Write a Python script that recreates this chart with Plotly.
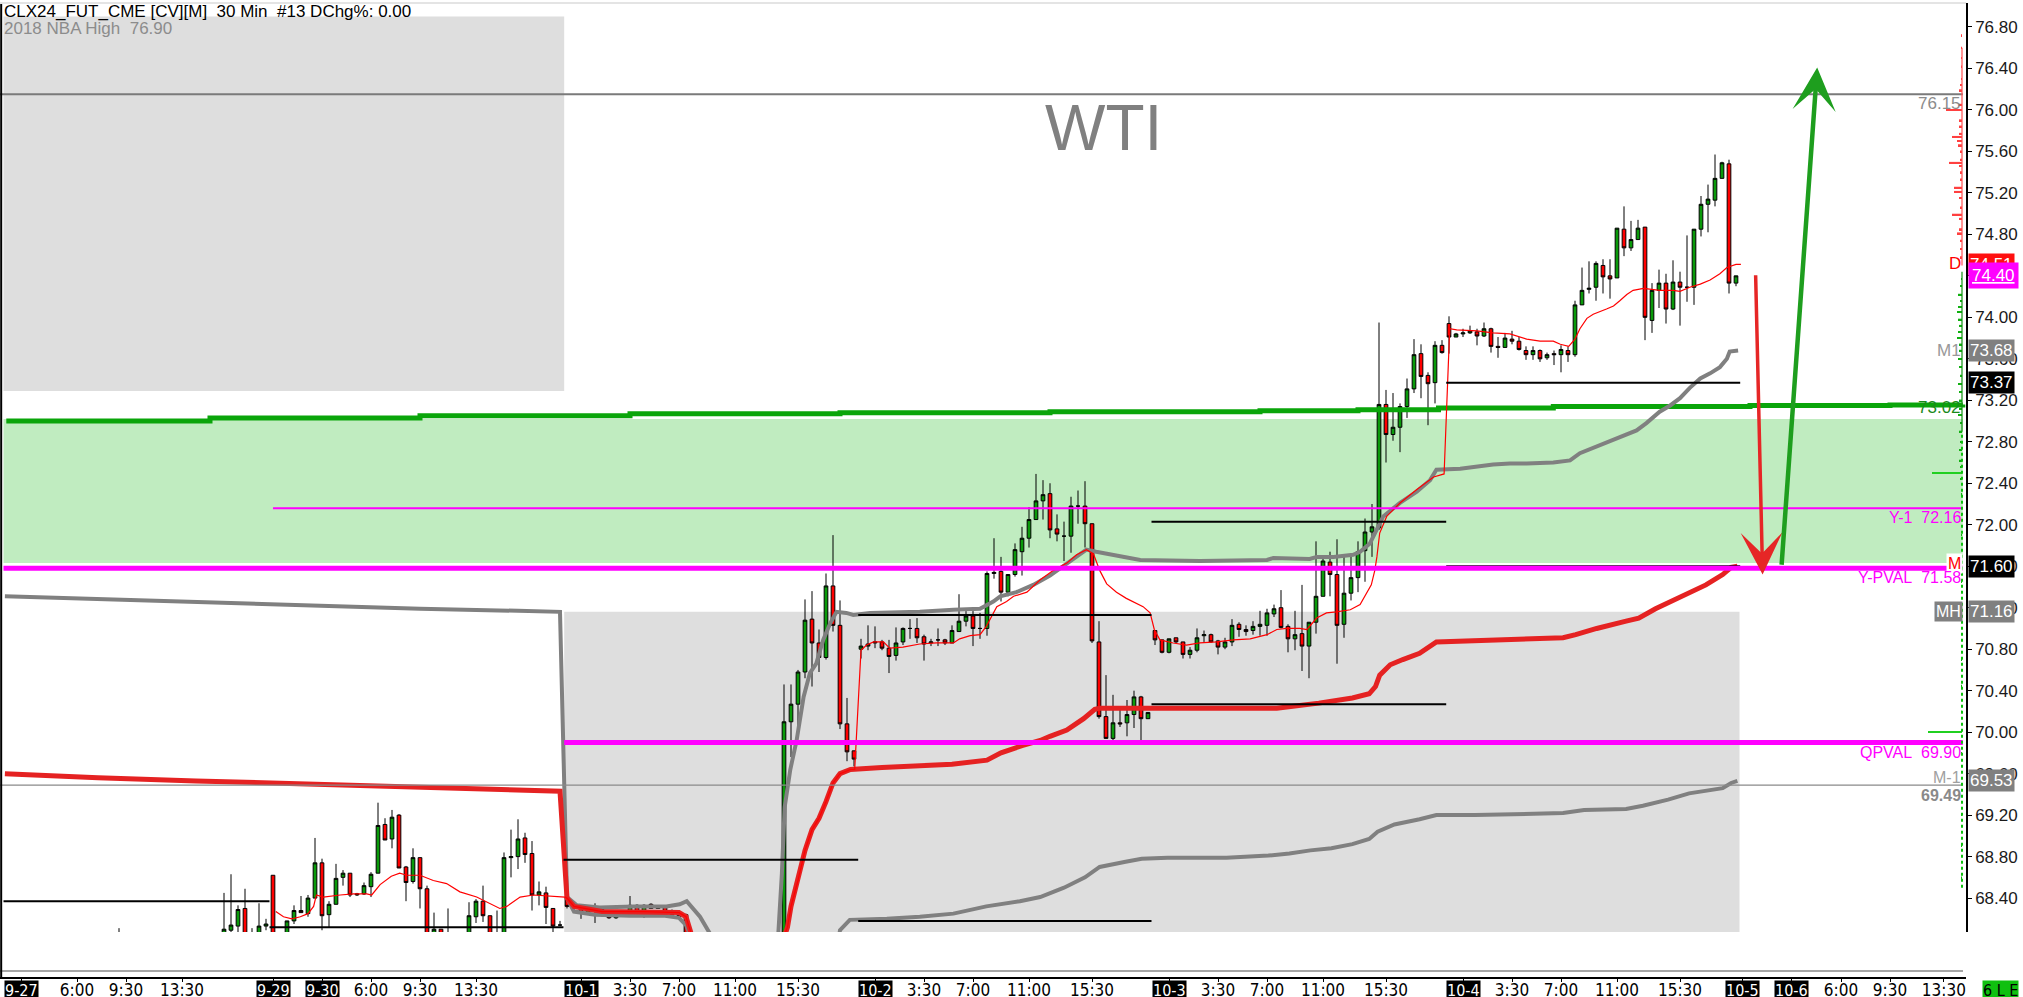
import plotly.graph_objects as go

# ---------------------------------------------------------------------------
# CLX24 30-minute bars.  x = bar slot on the session time scale (7 px / slot)
# ---------------------------------------------------------------------------
bar_idx = ([17] + list(range(32, 40)) + list(range(41, 65))
           + list(range(67, 99)) + list(range(112, 249)))

opens = [
    67.90,
    67.98, 68.09, 68.13, 68.30, 68.00, 68.00, 68.13, 68.62,
    67.98, 68.18, 68.28, 68.25, 68.40, 68.74, 68.24, 68.34, 68.60, 68.64, 68.43, 68.44,
    68.51, 68.64, 69.11, 68.97, 69.20, 68.70, 68.56, 68.79, 68.49, 68.00, 68.10, 68.02,
    67.98, 68.22, 68.37, 68.23, 68.00, 68.00, 68.79, 68.80, 68.98, 68.83, 68.43, 68.45,
    68.30, 68.14, 68.41, 68.32, 68.29, 68.26, 68.29, 68.29, 68.26, 68.21, 68.26, 68.25,
    68.33, 68.27, 68.34, 68.30, 68.31, 68.28, 68.25, 68.24,
    67.90, 70.10, 70.27, 70.58, 71.09, 70.86, 70.72, 71.41, 71.03, 70.08, 69.82,
    70.80, 70.83, 70.86, 70.87, 70.81, 70.74, 70.87, 71.00, 71.00, 70.92, 70.86, 70.89,
    70.89, 70.86, 70.97, 71.07, 71.12, 71.00, 71.00, 71.53, 71.55, 71.35, 71.52, 71.74,
    71.87, 72.05, 72.23, 72.30, 71.96, 71.89, 71.89, 72.18, 72.18, 72.01, 70.87, 70.15,
    69.94, 70.09, 70.09, 70.17, 70.34, 70.13,
    70.98, 70.89, 70.77, 70.91, 70.87, 70.75, 70.79, 70.93, 70.94, 70.88, 70.82, 70.87,
    71.04, 70.99, 70.98, 71.02, 71.03, 71.14, 71.20, 71.02, 70.90, 70.95, 70.83, 71.06,
    71.31, 71.64, 71.52, 71.04, 71.34, 71.49, 71.75, 71.93, 71.97, 73.16, 72.87, 72.94,
    73.14, 73.31, 73.65, 73.44, 73.37, 73.73,
    73.94, 73.81, 73.84, 73.85, 73.86, 73.82, 73.89, 73.72, 73.71, 73.79, 73.77, 73.68,
    73.64, 73.68, 73.61, 73.65, 73.64, 73.68, 73.64, 74.12, 74.27, 74.29, 74.50, 74.40,
    74.38, 74.85, 74.67, 74.75, 74.87, 73.97, 74.26, 74.33, 74.08, 74.34, 74.29, 74.29,
    74.85, 75.09, 75.13, 75.34, 75.48, 74.33,
]
highs = [
    68.11,
    68.45, 68.63, 68.33, 68.49, 68.11, 68.35, 68.20, 68.62,
    68.18, 68.33, 68.42, 68.43, 68.98, 68.78, 68.37, 68.73, 68.67, 68.64, 68.45, 68.55,
    68.65, 69.32, 69.17, 69.25, 69.21, 68.71, 68.88, 68.79, 68.52, 68.26, 68.10, 68.30,
    68.36, 68.39, 68.52, 68.23, 68.28, 68.84, 69.06, 69.16, 69.03, 68.95, 68.56, 68.51,
    68.30, 68.18, 68.44, 68.34, 68.32, 68.32, 68.35, 68.32, 68.27, 68.27, 68.28, 68.42,
    68.34, 68.34, 68.35, 68.32, 68.32, 68.29, 68.26, 68.25,
    70.46, 70.46, 70.60, 71.28, 71.36, 70.99, 71.53, 71.90, 71.27, 70.33, 69.82,
    70.90, 71.03, 71.02, 70.89, 70.89, 71.01, 71.01, 71.09, 71.10, 70.94, 70.90, 71.00,
    70.90, 71.03, 71.33, 71.19, 71.19, 71.15, 71.55, 71.87, 71.69, 71.52, 71.82, 71.98,
    72.17, 72.49, 72.43, 72.40, 72.10, 72.03, 72.27, 72.33, 72.42, 72.01, 71.07, 70.55,
    70.36, 70.25, 70.31, 70.40, 70.35, 70.19,
    70.98, 70.89, 70.90, 70.91, 70.87, 70.82, 71.00, 70.98, 70.95, 70.89, 70.91, 71.09,
    71.06, 71.03, 71.07, 71.17, 71.19, 71.23, 71.37, 71.04, 71.17, 71.42, 71.06, 71.84,
    71.69, 71.74, 71.86, 71.71, 71.71, 71.84, 72.06, 72.20, 73.95, 73.30, 73.27, 73.17,
    73.41, 73.79, 73.74, 73.47, 73.77, 73.78,
    74.01, 73.85, 73.89, 73.92, 73.89, 73.95, 73.90, 73.81, 73.85, 73.87, 73.81, 73.72,
    73.72, 73.69, 73.66, 73.68, 73.73, 73.72, 74.16, 74.48, 74.54, 74.54, 74.56, 74.56,
    74.86, 75.07, 74.93, 74.94, 74.87, 74.33, 74.46, 74.42, 74.55, 74.44, 74.79, 74.85,
    75.17, 75.28, 75.57, 75.50, 75.52, 74.40,
]
lows = [
    67.70,
    67.90, 68.05, 68.05, 67.95, 67.90, 67.95, 68.09, 67.98,
    67.95, 68.15, 68.26, 68.22, 68.40, 68.09, 68.12, 68.34, 68.52, 68.41, 68.42, 68.43,
    68.41, 68.64, 68.96, 68.88, 68.69, 68.37, 68.54, 68.30, 67.95, 67.95, 67.95, 67.95,
    67.95, 68.16, 68.17, 67.95, 67.95, 67.95, 68.60, 68.68, 68.74, 68.28, 68.33, 68.15,
    68.07, 68.13, 68.30, 68.29, 68.20, 68.25, 68.16, 68.22, 68.20, 68.20, 68.22, 68.24,
    68.26, 68.21, 68.30, 68.30, 68.25, 68.22, 68.21, 67.90,
    67.70, 69.76, 69.96, 70.52, 70.44, 70.58, 70.70, 70.97, 70.03, 69.72, 69.67,
    70.71, 70.79, 70.81, 70.79, 70.57, 70.69, 70.84, 70.90, 70.86, 70.69, 70.83, 70.83,
    70.84, 70.86, 70.97, 71.02, 70.83, 70.90, 70.93, 71.48, 71.26, 71.31, 71.50, 71.51,
    71.78, 72.05, 72.05, 71.87, 71.84, 71.65, 71.73, 72.01, 71.78, 70.86, 70.13, 69.94,
    69.92, 70.05, 69.96, 70.04, 69.92, 70.13,
    70.84, 70.76, 70.76, 70.86, 70.71, 70.71, 70.77, 70.87, 70.86, 70.75, 70.80, 70.83,
    70.92, 70.93, 70.94, 70.93, 70.93, 71.11, 71.00, 70.77, 70.79, 70.59, 70.52, 70.95,
    71.31, 71.31, 70.66, 70.91, 71.27, 71.35, 71.45, 71.69, 71.95, 72.60, 72.81, 72.70,
    73.03, 73.27, 73.22, 72.96, 73.17, 73.65,
    73.65, 73.81, 73.81, 73.84, 73.73, 73.81, 73.66, 73.61, 73.71, 73.74, 73.68, 73.59,
    73.59, 73.57, 73.59, 73.54, 73.47, 73.57, 73.62, 74.12, 74.23, 74.16, 74.23, 74.18,
    74.38, 74.59, 74.64, 74.75, 73.78, 73.85, 74.09, 73.94, 74.07, 73.92, 74.15, 74.12,
    74.78, 74.82, 75.07, 75.34, 74.23, 74.30,
]
closes = [
    67.95,
    68.10, 68.14, 68.29, 68.00, 68.02, 68.13, 68.15, 68.02,
    68.18, 68.28, 68.26, 68.40, 68.74, 68.23, 68.34, 68.59, 68.64, 68.43, 68.44, 68.52,
    68.63, 69.10, 68.96, 69.18, 68.69, 68.55, 68.79, 68.49, 68.00, 68.10, 68.00, 68.00,
    68.23, 68.37, 68.23, 68.00, 68.02, 68.79, 68.80, 68.97, 68.82, 68.43, 68.46, 68.31,
    68.13, 68.14, 68.32, 68.30, 68.26, 68.30, 68.29, 68.25, 68.21, 68.26, 68.24, 68.33,
    68.27, 68.33, 68.30, 68.31, 68.27, 68.24, 68.22, 67.98,
    70.10, 70.27, 70.58, 71.08, 70.86, 70.72, 71.41, 71.03, 70.08, 69.81, 69.74,
    70.83, 70.85, 70.87, 70.81, 70.73, 70.86, 71.00, 71.00, 70.91, 70.85, 70.87, 70.89,
    70.86, 70.98, 71.07, 71.12, 71.00, 71.00, 71.53, 71.54, 71.35, 71.52, 71.76, 71.87,
    72.05, 72.23, 72.29, 71.95, 71.91, 71.89, 72.18, 72.18, 72.01, 70.88, 70.15, 69.94,
    70.09, 70.08, 70.17, 70.34, 70.13, 70.19,
    70.89, 70.77, 70.90, 70.87, 70.75, 70.79, 70.91, 70.94, 70.87, 70.82, 70.87, 71.03,
    70.99, 70.97, 71.02, 71.04, 71.15, 71.19, 71.01, 70.90, 70.94, 70.83, 71.06, 71.31,
    71.65, 71.52, 71.03, 71.34, 71.49, 71.74, 71.93, 71.98, 73.16, 72.87, 72.94, 73.14,
    73.31, 73.64, 73.43, 73.36, 73.73, 73.66,
    73.81, 73.84, 73.85, 73.87, 73.82, 73.89, 73.72, 73.71, 73.80, 73.77, 73.69, 73.64,
    73.68, 73.60, 73.64, 73.64, 73.69, 73.64, 74.12, 74.26, 74.28, 74.52, 74.39, 74.37,
    74.86, 74.67, 74.75, 74.86, 74.00, 74.26, 74.33, 74.08, 74.34, 74.29, 74.29, 74.85,
    75.09, 75.14, 75.34, 75.49, 74.33, 74.40,
]

# --- monthly VWAP (M) -------------------------------------------------------
mvwap_x = [0.7, 14, 28, 45, 62, 69, 78, 80,
           81, 82, 86, 92, 97, 98, 99, 100, 111, 112, 112.5, 113, 114, 115, 116,
           117, 118, 119, 120, 121.5, 126, 131, 136, 141, 143, 146, 148.6, 150,
           152.4, 154.8, 156.4, 157.1, 166.7, 176.3, 182.4, 188.4, 193.2, 195.6,
           196.5, 197.1, 198.6, 200.4, 202.8, 205.2, 211.3, 217.3, 223.3, 225.1,
           228.1, 232.3, 234.1, 236.5, 240.1, 243.7, 246.1, 247.3, 248.2]
mvwap_y = [69.60, 69.56, 69.53, 69.50, 69.47, 69.46, 69.44, 69.43,
           68.40, 68.32, 68.27, 68.27, 68.26, 68.22, 68.00, 67.90, 67.85, 68.02,
           68.12, 68.32, 68.57, 68.86, 69.06, 69.17, 69.33, 69.51, 69.60, 69.64,
           69.66, 69.67, 69.69, 69.73, 69.80, 69.87, 69.92, 69.96, 70.02, 70.13,
           70.22, 70.23, 70.23, 70.22, 70.23, 70.28, 70.33, 70.37, 70.44, 70.55,
           70.65, 70.70, 70.76, 70.87, 70.88, 70.89, 70.91, 70.94, 71.00, 71.07,
           71.10, 71.19, 71.31, 71.42, 71.52, 71.59, 71.60]

# --- upper band (M1) --------------------------------------------------------
band_up_x = [0.7, 20, 40, 60, 74, 80,
             81, 82.4, 85.7, 90.5, 95.2, 97.1, 98.1, 99, 100, 101.4, 102, 110.5,
             111.2, 111.7, 112.1, 112.9, 113.8, 114.8, 115.7, 116.6, 117.6, 118.6,
             119.5, 120.9, 121.9, 124.3, 131.4, 136.2, 140, 141.9, 142.9, 145.2,
             147.6, 150, 152.4, 153.8, 155.2, 156.6, 159, 162.9, 171.4, 181, 181.9,
             187.1, 188.1, 190.5, 193.3, 194.3, 195.7, 196.7, 197.6, 200, 202.4,
             204.3, 205.2, 208.6, 211, 213.3, 215.7, 218.1, 221.9, 224.3, 225.7,
             227.6, 230, 232.4, 233.8, 235.2, 237.1, 238.6, 240, 241.4, 242.9,
             244.3, 245.7, 246.7, 247.1, 248.3]
band_up_y = [71.31, 71.27, 71.23, 71.19, 71.17, 71.16,
             68.41, 68.33, 68.31, 68.32, 68.32, 68.34, 68.37, 68.30, 68.22, 68.06,
             67.90, 67.80, 68.07, 68.64, 69.28, 69.64, 69.92, 70.34, 70.57, 70.66,
             70.89, 71.05, 71.16, 71.15, 71.13, 71.15, 71.16, 71.18, 71.19, 71.26,
             71.31, 71.35, 71.42, 71.51, 71.63, 71.69, 71.76, 71.74, 71.71, 71.66,
             71.65, 71.66, 71.68, 71.67, 71.69, 71.69, 71.71, 71.74, 71.82, 71.95,
             72.08, 72.21, 72.32, 72.43, 72.53, 72.54, 72.56, 72.58, 72.59, 72.59,
             72.60, 72.62, 72.69, 72.74, 72.80, 72.87, 72.91, 72.98, 73.09, 73.15,
             73.22, 73.32, 73.41, 73.46, 73.52, 73.60, 73.67, 73.68]

# --- lower band (M-1) -------------------------------------------------------
band_dn_x = [81, 82, 85, 90, 95, 97, 98, 99, 100, 119.3, 120, 121.4, 126.7, 131.4,
             136.2, 140.9, 145.7, 148.6, 152, 155, 157.1, 160.8, 163.1, 166.8, 175.2,
             181.2, 184.2, 187.2, 190.2, 193.2, 195.6, 196.8, 199.2, 202.8, 205.2,
             210.7, 217.3, 223.3, 226.3, 232.3, 234.7, 238.3, 241.3, 246.1, 247.3,
             248.2]
band_dn_y = [68.40, 68.27, 68.24, 68.23, 68.23, 68.21, 68.14, 67.98, 67.80, 67.80,
             68.09, 68.19, 68.20, 68.22, 68.25, 68.32, 68.37, 68.41, 68.50, 68.60,
             68.70, 68.75, 68.78, 68.79, 68.79, 68.81, 68.83, 68.86, 68.88, 68.92,
             68.97, 69.04, 69.11, 69.16, 69.20, 69.20, 69.21, 69.22, 69.25, 69.26,
             69.29, 69.35, 69.41, 69.46, 69.51, 69.53]

# --- session VWAP (D) -------------------------------------------------------
dvwap_x = [39.4, 40.5, 41.7, 42.9, 44.0, 44.8, 45.2, 46.2, 48.6, 50.5, 52.4, 53.1,
           54.3, 55.9, 57.1, 58.1, 60, 61.9, 63.8, 65.7, 68.1, 70, 71.4, 72.4, 74.3,
           76.2, 78.1, 80, 80.7,
           81, 82, 86, 92, 97, 98, 99, 100, 111, 112, 112.5, 113, 114, 115, 116,
           117, 118, 119, 120, 121.5, 122.1,
           123, 123.8, 124.8, 126.2, 127.1, 129, 131.4, 133.8, 136.2, 137.1, 138.6,
           140, 140.9, 142.4, 143.8, 144.8, 146.7, 148.6, 150.5, 152.4, 153.8,
           155.2, 156.2, 157.1, 158.1, 159.5, 160.9, 162.4, 163.3, 164.3,
           164.9, 165.7, 167.6, 169.5, 171.4, 173.8, 176.2, 178.6, 181, 182.4,
           183.8, 185.7, 186.7, 188.1, 189.5, 190.9, 192.9, 194.3, 195.2, 195.9,
           196.4, 196.7, 197.1, 198.1, 200, 202.4, 204.8, 205.7, 206.3,
           207.1, 208.1, 211, 213.3, 215.7, 218.1, 220, 221.9, 222.9, 224.1, 225,
           225.7, 226.7, 227.6, 229.5, 230.5, 231.4, 232.4, 233.3, 234.8, 237.1,
           239, 240, 241.4, 242.9, 244.3, 245.7, 246.7, 248, 248.7]
dvwap_y = [68.27, 68.22, 68.20, 68.22, 68.25, 68.32, 68.43, 68.41, 68.43, 68.44,
           68.44, 68.43, 68.53, 68.61, 68.64, 68.62, 68.62, 68.57, 68.54, 68.46,
           68.41, 68.35, 68.30, 68.32, 68.41, 68.43, 68.42, 68.41, 68.41,
           68.40, 68.32, 68.27, 68.27, 68.26, 68.22, 68.00, 67.90, 67.85, 68.02,
           68.12, 68.32, 68.57, 68.86, 69.06, 69.17, 69.33, 69.51, 69.60, 69.64,
           69.64,
           70.79, 70.84, 70.87, 70.87, 70.81, 70.82, 70.85, 70.86, 70.86, 70.90,
           70.93, 70.94, 71.02, 71.21, 71.26, 71.31, 71.35, 71.47, 71.56, 71.63,
           71.71, 71.76, 71.72, 71.56, 71.43, 71.35, 71.29, 71.24, 71.21, 71.15,
           70.99, 70.89, 70.86, 70.84, 70.86, 70.87, 70.89, 70.90, 70.94, 70.99,
           71.00, 71.00, 70.99, 71.10, 71.15, 71.16, 71.18, 71.23, 71.34, 71.42,
           71.56, 71.69, 71.92, 72.08, 72.21, 72.34, 72.46, 72.48, 72.49,
           73.89, 73.88, 73.87, 73.85, 73.84, 73.79, 73.77, 73.77, 73.74, 73.72,
           73.79, 73.89, 73.99, 74.03, 74.08, 74.11, 74.16, 74.22, 74.26, 74.28,
           74.26, 74.26, 74.25, 74.29, 74.32, 74.36, 74.42, 74.48, 74.51, 74.51]

# --- slow moving average (green) --------------------------------------------
ma_x = [0.9, 30, 60, 90, 120, 150, 180, 194, 205.5, 221.9, 250, 270, 280.4]
ma_y = [73.00, 73.03, 73.05, 73.07, 73.08, 73.09, 73.10, 73.11, 73.125, 73.14,
        73.15, 73.155, 73.16]

# --- session reference levels (black) ---------------------------------------
sess_edges = [0.5, 38.5, 80.5, 122.6, 164.5, 206.6, 248.6]
sess_upper = [68.37, 68.12, 68.77, 71.13, 72.03, 73.37]
sess_lower = [None, None, None, 68.18, 70.27, 71.60]

# --- key price levels -------------------------------------------------------
x_right = 280.4
ypval, y1, qpval = 71.58, 72.16, 69.90
ypval_from, y1_from, qpval_from = 0.5, 39.0, 80.6
grey_levels = [76.15, 69.49]
zone_green = (71.63, 73.02)
box_nba_high, box_nba_low, box_nba_end = 76.90, 73.29, 80.6
box_mh, box_mh_from, box_mh_to = 71.16, 80.6, 248.5

# --- volume at price (right edge) -------------------------------------------
prof_red_px = [76.72, 76.60, 76.50, 76.42, 76.30, 76.24, 76.19, 76.05, 76.00, 75.90,
               75.84, 75.77, 75.74, 75.70, 75.66, 75.60, 75.52, 75.49, 75.46, 75.40,
               75.33, 75.25, 75.21, 75.15, 75.06, 74.99, 74.95, 74.85, 74.81, 74.74,
               74.66, 74.58]
prof_red_len = [1, 1, 1, 1, 1, 2, 3, 4, 16, 3, 3, 3, 10, 5, 4, 2, 2, 13, 3, 2, 2, 8,
                8, 3, 2, 10, 3, 3, 5, 2, 2, 2]
prof_grn_px = [74.37, 74.30, 74.22, 74.16, 74.10, 74.05, 73.98, 73.92, 73.86, 73.80,
               73.74, 73.68, 73.60, 73.52, 73.44, 73.36, 73.28, 73.20, 73.12, 73.06,
               72.98, 72.90, 72.80, 72.72, 72.62, 72.56, 72.44, 72.30, 72.10, 71.90,
               71.70, 71.45, 71.20, 70.95, 70.70, 70.45, 70.20, 69.80, 69.50, 69.20,
               68.90, 68.60]
prof_grn_len = [1, 2, 4, 2, 4, 5, 4, 3, 4, 5, 3, 3, 4, 3, 2, 4, 3, 3, 3, 4, 2, 3, 2,
                3, 3, 2, 2, 1, 1, 1, 1, 1, 1, 1, 1, 1, 1, 1, 1, 1, 1, 1]
prof_line_px = [72.50, 70.00]
prof_line_len = [30, 34]

# --- axis labels ------------------------------------------------------------
price_ticks = ["68.40", "68.80", "69.20", "69.60", "70.00", "70.40", "70.80", "71.20",
               "71.60", "72.00", "72.40", "72.80", "73.20", "73.60", "74.00", "74.40",
               "74.80", "75.20", "75.60", "76.00", "76.40", "76.80"]
time_tick_pos = [11, 18, 26, 53, 60, 68, 90, 97, 105, 114, 132, 139, 147, 156,
                 174, 181, 189, 198, 216, 223, 231, 240, 263, 270, 277.7]
time_tick_txt = ["6:00", "9:30", "13:30", "6:00", "9:30", "13:30",
                 "3:30", "7:00", "11:00", "15:30", "3:30", "7:00", "11:00", "15:30",
                 "3:30", "7:00", "11:00", "15:30", "3:30", "7:00", "11:00", "15:30",
                 "6:00", "9:30", "13:30"]
date_pos = [3.0, 39.0, 46.0, 83.1, 125.0, 167.0, 209.1, 248.9, 255.9]
date_txt = ["9-27", "9-29", "9-30", "10-1", "10-2", "10-3", "10-4", "10-5", "10-6"]

# ---------------------------------------------------------------------------
PX_W = 1966          # price-pane right edge (px)
PANE_SPLIT = 46 / 975
Y_RANGE = [68.073, 77.031]
SLOT_PX = 7

GREEN = "#0a9a0a"
RED = "#ff0000"
MAGENTA = "#ff00ff"
GREY = "#808080"
NARROW = "Liberation Sans Narrow, Arial Narrow, DejaVu Sans Condensed, sans-serif"
SANS = "Liberation Sans, Arial, sans-serif"

fig = go.Figure()

# slow MA
fig.add_trace(go.Scatter(x=ma_x, y=ma_y, mode="lines", line_shape="hv",
                         line=dict(color="#0aa50a", width=5), hoverinfo="skip"))
# bands
fig.add_trace(go.Scatter(x=band_up_x, y=band_up_y, mode="lines",
                         line=dict(color=GREY, width=4), hoverinfo="skip"))
fig.add_trace(go.Scatter(x=band_dn_x, y=band_dn_y, mode="lines",
                         line=dict(color=GREY, width=4), hoverinfo="skip"))
# monthly VWAP
fig.add_trace(go.Scatter(x=mvwap_x, y=mvwap_y, mode="lines",
                         line=dict(color="#e52222", width=5), hoverinfo="skip"))
# candles
fig.add_trace(go.Candlestick(
    x=bar_idx, open=opens, high=highs, low=lows, close=closes,
    increasing=dict(fillcolor=GREEN, line=dict(color="black", width=1)),
    decreasing=dict(fillcolor=RED, line=dict(color="black", width=1)),
    whiskerwidth=0, hoverinfo="skip"))
# session VWAP
fig.add_trace(go.Scatter(x=dvwap_x, y=dvwap_y, mode="lines",
                         line=dict(color=RED, width=1.2), hoverinfo="skip"))

# session levels
lx, ly = [], []
for i in range(len(sess_upper)):
    for lvl in (sess_upper[i], sess_lower[i]):
        if lvl is None:
            continue
        lx += [sess_edges[i], sess_edges[i + 1], None]
        ly += [lvl, lvl, None]
fig.add_trace(go.Scatter(x=lx, y=ly, mode="lines",
                         line=dict(color="black", width=2), hoverinfo="skip"))

# grey reference levels
fig.add_trace(go.Scatter(x=[0, x_right], y=[grey_levels[0]] * 2, mode="lines",
                         line=dict(color="#7a7a7a", width=2), hoverinfo="skip"))
fig.add_trace(go.Scatter(x=[0, x_right], y=[grey_levels[1]] * 2, mode="lines",
                         line=dict(color="#8a8a8a", width=1.2), hoverinfo="skip"))

# value-area levels
fig.add_trace(go.Scatter(x=[y1_from, x_right], y=[y1, y1], mode="lines",
                         line=dict(color=MAGENTA, width=2), hoverinfo="skip"))
fig.add_trace(go.Scatter(x=[ypval_from, x_right], y=[ypval, ypval], mode="lines",
                         line=dict(color=MAGENTA, width=5), hoverinfo="skip"))
fig.add_trace(go.Scatter(x=[qpval_from, x_right], y=[qpval, qpval], mode="lines",
                         line=dict(color=MAGENTA, width=5), hoverinfo="skip"))

# volume-at-price profile, growing leftwards from the right edge
fig.add_trace(go.Bar(x=prof_red_len, y=prof_red_px, base=4, orientation="h",
                     width=0.018, marker=dict(color="#ff4040", line_width=0),
                     xaxis="x2", yaxis="y", hoverinfo="skip"))
fig.add_trace(go.Bar(x=prof_grn_len, y=prof_grn_px, base=4, orientation="h",
                     width=0.014, marker=dict(color="#10b010", line_width=0),
                     xaxis="x2", yaxis="y", hoverinfo="skip"))
fig.add_trace(go.Bar(x=prof_line_len, y=prof_line_px, base=4, orientation="h",
                     width=0.012, marker=dict(color="#20d020", line_width=0),
                     xaxis="x2", yaxis="y", hoverinfo="skip"))
fig.add_trace(go.Scatter(x=[4, 4], y=[74.50, 76.60], mode="lines", xaxis="x2",
                         line=dict(color="#ff5050", width=1.2), hoverinfo="skip"))
fig.add_trace(go.Scatter(x=[4, 4], y=[72.90, 74.44], mode="lines", xaxis="x2",
                         line=dict(color="#109010", width=1.2), hoverinfo="skip"))
fig.add_trace(go.Scatter(x=[4, 4], y=[68.50, 72.90], mode="lines", xaxis="x2",
                         line=dict(color="#10c010", width=2, dash="dot"),
                         hoverinfo="skip"))

# background zones
shapes = [
    dict(type="rect", xref="x", yref="y", x0=0.5, x1=box_nba_end,
         y0=box_nba_low, y1=box_nba_high, fillcolor="#dedede", line_width=0,
         layer="below"),
    dict(type="rect", xref="x", yref="y", x0=box_mh_from, x1=box_mh_to,
         y0=60, y1=box_mh, fillcolor="#dedede", line_width=0, layer="below"),
    dict(type="rect", xref="x", yref="y", x0=0.5, x1=x_right,
         y0=zone_green[0], y1=zone_green[1], fillcolor="#c0ecc0", line_width=0,
         layer="below"),
    # lower pane trace line
    dict(type="line", xref="paper", yref="paper", x0=0, x1=1963 / PX_W,
         y0=7 / 975, y1=7 / 975, line=dict(color="#8a8a8a", width=1.5)),
    # outer frame
    dict(type="line", xref="paper", yref="paper", x0=0.0006, x1=0.0006, y0=0, y1=1,
         line=dict(color="black", width=2)),
    dict(type="line", xref="paper", yref="paper", x0=0, x1=1, y0=1, y1=1,
         line=dict(color="#e4e4e4", width=2)),
]

ann = []
# header
ann.append(dict(xref="paper", yref="paper", x=0, y=1, xanchor="left", yanchor="top",
                xshift=2, yshift=3, showarrow=False,
                text="CLX24_FUT_CME [CV][M]\u00a0 30 Min\u00a0 #13 DChg%: 0.00",
                font=dict(family=SANS, size=17, color="black")))
ann.append(dict(xref="paper", yref="y", x=0, y=box_nba_high, xanchor="left",
                yanchor="top", xshift=2, yshift=0, showarrow=False,
                text="2018 NBA High\u00a0 76.90",
                font=dict(family=SANS, size=17, color="#8c8c8c")))
ann.append(dict(xref="x", yref="y", x=157.6, y=75.83, showarrow=False, text="WTI",
                font=dict(family=SANS, size=64, color="#808080")))

# labels left of the price scale
RX = 1963 / PX_W
def inner_label(y, text, color, yshift=0, size=16, bg=None):
    d = dict(xref="paper", yref="y", x=RX, y=y, xanchor="right", yanchor="middle",
             yshift=yshift, showarrow=False, text=text,
             font=dict(family=SANS, size=size, color=color))
    if bg:
        d.update(bgcolor=bg, borderpad=1)
    ann.append(d)

inner_label(grey_levels[0], "76.15", "#8c8c8c", yshift=-9, size=17)
inner_label(zone_green[1], "73.02", "#1a8a1a", yshift=11, size=17)
inner_label(74.51, "D", RED, yshift=1, size=17)
inner_label(73.68, "M1", "#999999", size=17)
inner_label(y1, "Y-1\u00a0 72.16", MAGENTA, yshift=-9)
inner_label(71.60, "M", RED, yshift=3, size=16, bg="white")
inner_label(ypval, "Y-PVAL\u00a0 71.58", MAGENTA, yshift=-9)
inner_label(box_mh, "MH", "white", size=16, bg="#808080")
inner_label(qpval, "QPVAL\u00a0 69.90", MAGENTA, yshift=-10)
inner_label(69.53, "M-1", "#a0a0a0", yshift=3, size=16)
inner_label(grey_levels[1], "<b>69.49</b>", "#8a8a8a", yshift=-10, size=16)

# marker boxes on the price scale
def scale_box(y, text, bg, pad=1):
    ann.append(dict(xref="paper", yref="y", x=1, y=y, xanchor="left",
                    yanchor="middle", xshift=2, showarrow=False, text=text,
                    bgcolor=bg, borderpad=pad,
                    font=dict(family=SANS, size=17, color="white")))

scale_box(74.51, "74.51", "#ff1010")
scale_box(74.40, "<u>74.40</u>", MAGENTA, pad=3)
scale_box(73.68, "73.68", "#808080")
scale_box(73.37, "73.37", "black")
scale_box(71.60, "71.60", "black")
scale_box(71.16, "71.16", "#808080")
scale_box(69.53, "69.53", "#808080")

# date boxes under the time axis
for p, t in zip(date_pos, date_txt):
    ann.append(dict(xref="x", yref="paper", x=p, y=0, yanchor="top", yshift=-2,
                    showarrow=False, text=t, bgcolor="black", borderpad=0,
                    font=dict(family=NARROW, size=16, color="white")))
ann.append(dict(xref="paper", yref="paper", x=1, y=0, xanchor="left", yanchor="top",
                xshift=16, yshift=-2, showarrow=False, text="6 L E",
                bgcolor="#10c010", borderpad=0,
                font=dict(family=NARROW, size=16, color="black")))

# scenario arrows
ann.append(dict(xref="x", yref="y", axref="x", ayref="y", x=251.8, y=71.52,
                ax=250.8, ay=74.42, showarrow=True, arrowhead=3, arrowsize=2.0,
                arrowwidth=3.5, arrowcolor="#e62626", text=""))
ann.append(dict(xref="x", yref="y", axref="x", ayref="y", x=259.6, y=76.41,
                ax=254.5, ay=71.60, showarrow=True, arrowhead=3, arrowsize=1.6,
                arrowwidth=4.5, arrowcolor="#1e9e1e", text=""))

fig.update_layout(
    width=2023, height=997,
    margin=dict(l=0, r=2023 - PX_W, t=3, b=19, pad=0),
    paper_bgcolor="white", plot_bgcolor="white",
    showlegend=False, boxgap=0.25, barmode="overlay",
    shapes=shapes, annotations=ann,
    xaxis=dict(domain=[0, 1], range=[0, PX_W / SLOT_PX], anchor="free", position=0,
               showgrid=False, zeroline=False, showline=True, linecolor="black",
               linewidth=1.5, ticks="outside", ticklen=3, tickcolor="black",
               ticklabelstandoff=-6,
               tickvals=time_tick_pos + date_pos,
               ticktext=time_tick_txt + [""] * len(date_pos),
               tickfont=dict(family=NARROW, size=17, color="black"),
               rangeslider=dict(visible=False), fixedrange=True, automargin=False),
    xaxis2=dict(overlaying="x", range=[PX_W, 0], visible=False, anchor="y",
                fixedrange=True),
    yaxis=dict(domain=[PANE_SPLIT, 1], range=Y_RANGE, side="right", anchor="x",
               showgrid=False, zeroline=False, showline=True, linecolor="black",
               linewidth=1.5, ticks="outside", ticklen=4, tickcolor="black",
               tickvals=[float(t) for t in price_ticks], ticktext=price_ticks,
               tickfont=dict(family=SANS, size=17, color="#1a1a1a"),
               fixedrange=True, automargin=False),
    yaxis2=dict(domain=[0, PANE_SPLIT], range=[0, 1], side="right", anchor="x",
                showgrid=False, zeroline=False, showline=True, linecolor="black",
                linewidth=1.5, showticklabels=False, ticks="", fixedrange=True),
)

fig.write_html("out.html", config={"displayModeBar": False})
